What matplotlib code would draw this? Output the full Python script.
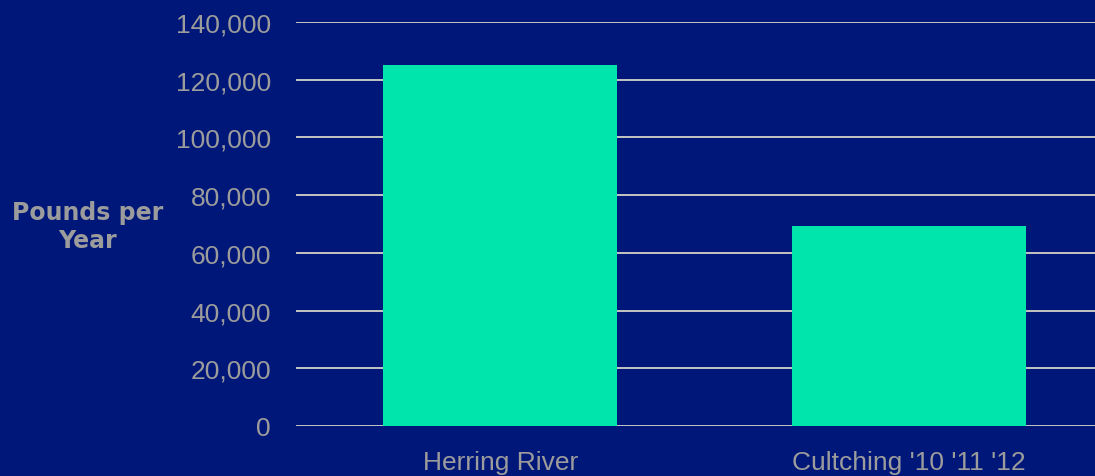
"""Bar chart: pounds per year, Herring River vs cultching"""

import matplotlib.pyplot as plt
from matplotlib.ticker import FuncFormatter

categories = ["Herring River", "Cultching '10 '11 '12"]
pounds_per_year = [125000, 69300]
y_ticks = [0, 20000, 40000, 60000, 80000, 100000, 120000, 140000]

BG = "#00177A"
BAR = "#00E5AC"
TEXT = "#9C9C9C"
GRID = "#C4C4C4"

plt.rcParams["font.family"] = ["Liberation Sans Narrow", "Liberation Sans", "DejaVu Sans"]

fig = plt.figure(figsize=(10.95, 4.77), dpi=100, facecolor=BG)
ax = fig.add_axes([296 / 1095, 50 / 477, 817 / 1095, 404 / 477], facecolor=BG)

x = range(len(categories))
ax.bar(x, pounds_per_year, width=0.573, color=BAR, zorder=3)

ax.set_xlim(-0.5, 1.5)
ax.set_ylim(0, 140000)
ax.set_yticks(y_ticks)
ax.yaxis.set_major_formatter(FuncFormatter(lambda v, p: f"{int(v):,}"))
ax.set_xticks(list(x))
ax.set_xticklabels(categories)

ax.grid(axis="y", color=GRID, linewidth=1.4, zorder=1)
ax.tick_params(axis="y", length=0, pad=18, labelsize=20, labelcolor=TEXT)
ax.tick_params(axis="x", length=0, pad=17, labelsize=19, labelcolor=TEXT)
for s in ax.spines.values():
    s.set_visible(False)
for lbl in ax.get_yticklabels():
    lbl.set_family(["Liberation Sans", "DejaVu Sans"])
    lbl.set_fontsize(19)

fig.text(88 / 1095, 1 - 227 / 477, "Pounds per\nYear", ha="center", va="center",
         color=TEXT, fontsize=17, fontweight="bold", linespacing=1.25,
         family=["DejaVu Sans"])

fig.savefig("out.png", dpi=100, facecolor=BG)
